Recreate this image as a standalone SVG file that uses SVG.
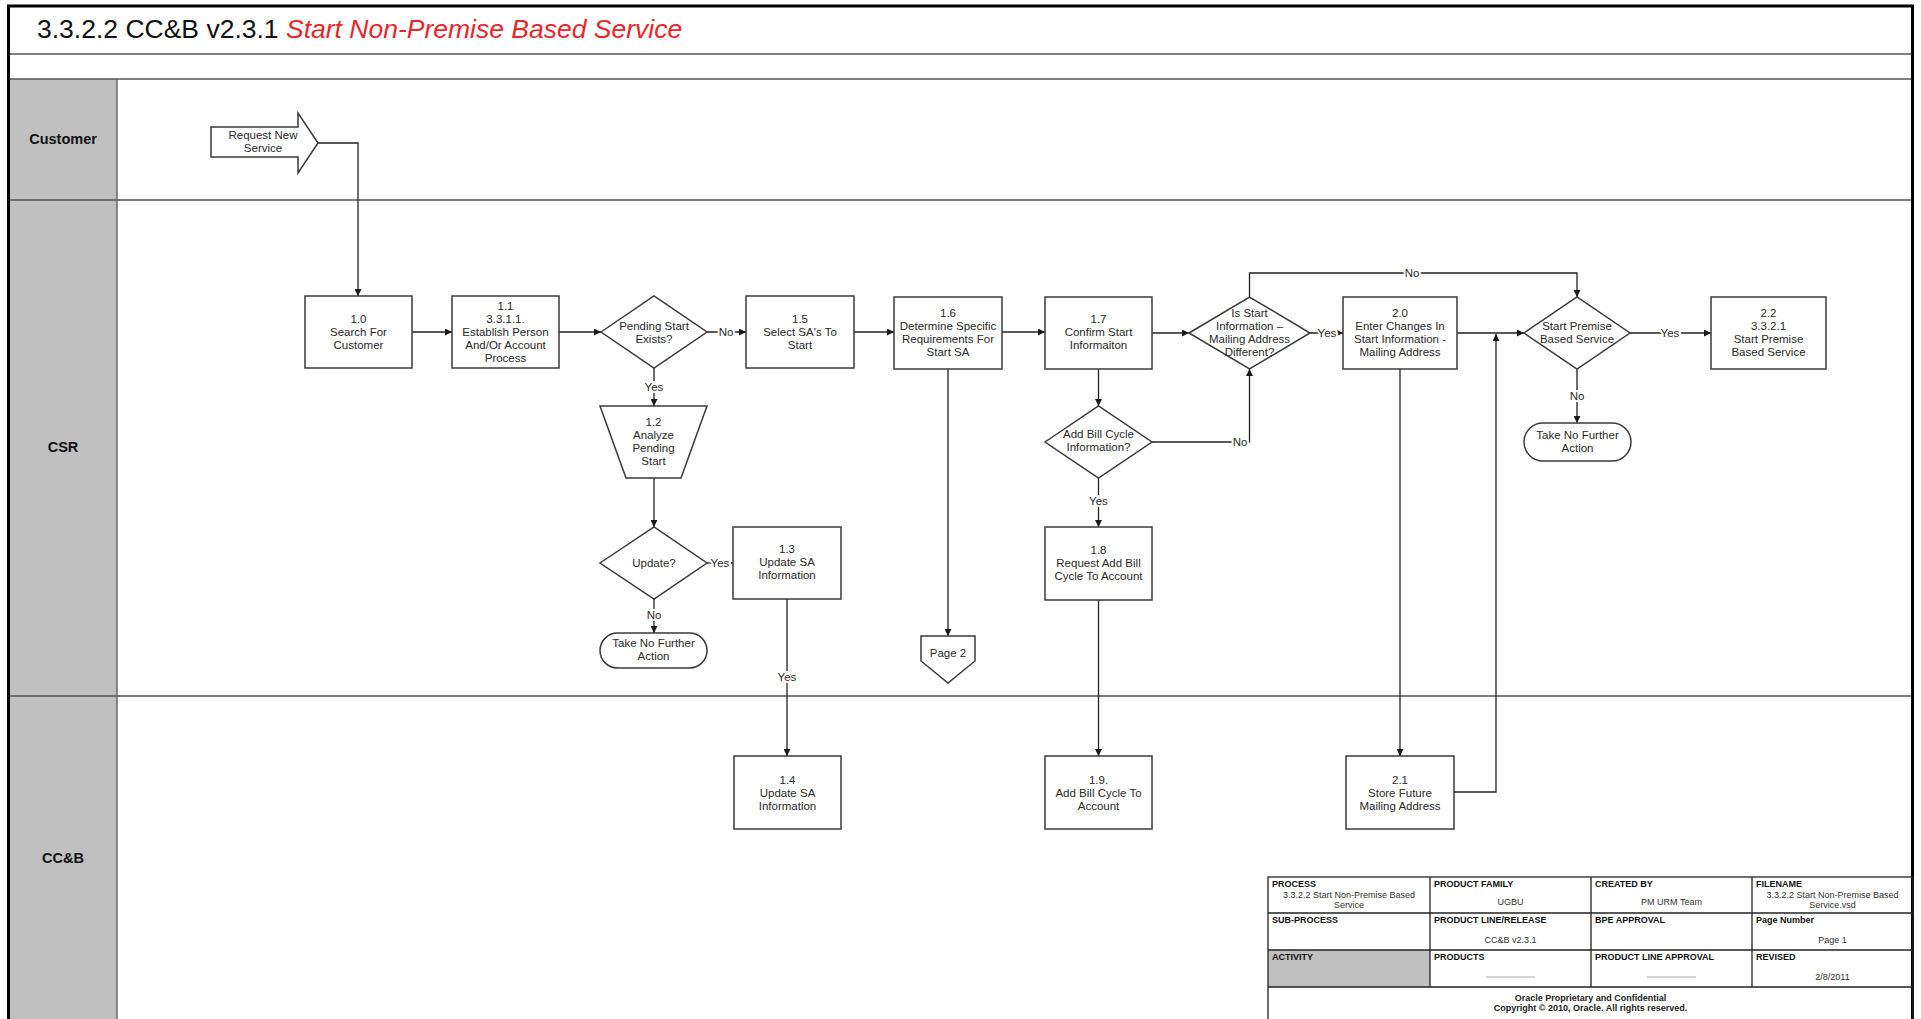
<svg xmlns="http://www.w3.org/2000/svg" width="1921" height="1019" viewBox="0 0 1921 1019">
<defs>
<marker id="ah" viewBox="0 0 10 10" refX="10" refY="5" markerWidth="8" markerHeight="7" markerUnits="userSpaceOnUse" orient="auto">
<path d="M0,0 L10,5 L0,10 z" fill="#1a1a1a"/>
</marker>
<style>
.box{fill:#fff;stroke:#3a3a3a;stroke-width:1.5}
.t{font-family:"Liberation Sans",Arial,sans-serif;font-size:11.5px;fill:#2a2a2a;text-anchor:middle}
.lbl{font-family:"Liberation Sans",Arial,sans-serif;font-size:11.5px;fill:#2a2a2a;text-anchor:middle;paint-order:stroke;stroke:#fff;stroke-width:4px}
.c{fill:none;stroke:#222;stroke-width:1.3}
.ca{fill:none;stroke:#222;stroke-width:1.3;marker-end:url(#ah)}
.lane{font-family:"Liberation Sans",Arial,sans-serif;font-size:14.5px;font-weight:bold;fill:#111;text-anchor:middle}
.sep{stroke:#555;stroke-width:1.3}
.th{font-family:"Liberation Sans",Arial,sans-serif;font-size:9px;font-weight:bold;fill:#111}
.tv{font-family:"Liberation Sans",Arial,sans-serif;font-size:9px;fill:#333;text-anchor:middle}
.tf{font-family:"Liberation Sans",Arial,sans-serif;font-size:9px;font-weight:bold;fill:#222;text-anchor:middle}
.cell{fill:none;stroke:#222;stroke-width:1.3}
</style>
</defs>
<rect x="0" y="0" width="1921" height="1019" fill="#fff"/>
<g id="frame">
<rect x="9" y="79" width="108" height="945" fill="#c0c0c0"/>
<line class="sep" x1="9" y1="54" x2="1913" y2="54"/>
<line class="sep" x1="9" y1="79" x2="1913" y2="79"/>
<line class="sep" x1="9" y1="200" x2="1913" y2="200"/>
<line class="sep" x1="9" y1="696" x2="1913" y2="696"/>
<line class="sep" x1="117" y1="79" x2="117" y2="1019"/>
<rect x="8.5" y="6" width="1904" height="1030" fill="none" stroke="#000" stroke-width="3"/>
<text x="37" y="38" font-family="'Liberation Sans',Arial,sans-serif" font-size="26.5" fill="#111">3.3.2.2 CC&amp;B v2.3.1 <tspan fill="#e8262c" font-style="italic">Start Non-Premise Based Service</tspan></text>
<text class="lane" x="63" y="144">Customer</text>
<text class="lane" x="63" y="452">CSR</text>
<text class="lane" x="63" y="863">CC&amp;B</text>
</g>
<g id="connectors">
<polyline class="ca" points="318,143 358,143 358,296"/>
<line class="ca" x1="412" y1="332" x2="452" y2="332"/>
<line class="ca" x1="559" y1="332" x2="601" y2="332"/>
<line class="ca" x1="707" y1="332" x2="746" y2="332"/>
<line class="ca" x1="854" y1="332" x2="894" y2="332"/>
<line class="ca" x1="1002" y1="332" x2="1045" y2="332"/>
<line class="ca" x1="1152" y1="333" x2="1189" y2="333"/>
<line class="ca" x1="1310" y1="333" x2="1343" y2="333"/>
<line class="ca" x1="1457" y1="333" x2="1524" y2="333"/>
<line class="ca" x1="1630" y1="333" x2="1711" y2="333"/>
<polyline class="ca" points="1249.5,297 1249.5,273 1577,273 1577,297"/>
<line class="ca" x1="1577" y1="369" x2="1577" y2="423"/>
<line class="ca" x1="654" y1="368" x2="654" y2="406"/>
<line class="ca" x1="654" y1="478" x2="654" y2="527"/>
<line class="ca" x1="707" y1="563" x2="733" y2="563"/>
<line class="ca" x1="654" y1="599" x2="654" y2="633"/>
<line class="ca" x1="787" y1="599" x2="787" y2="756"/>
<line class="ca" x1="948" y1="369" x2="948" y2="636"/>
<line class="ca" x1="1098.5" y1="369" x2="1098.5" y2="406"/>
<polyline class="ca" points="1152,442 1249.5,442 1249.5,369"/>
<line class="ca" x1="1098.5" y1="478" x2="1098.5" y2="527"/>
<line class="ca" x1="1098.5" y1="600" x2="1098.5" y2="756"/>
<line class="ca" x1="1400" y1="369" x2="1400" y2="756"/>
<polyline class="ca" points="1454,792 1496,792 1496,334"/>
<text class="lbl" x="726" y="336">No</text>
<text class="lbl" x="1327" y="337">Yes</text>
<text class="lbl" x="1412" y="277">No</text>
<text class="lbl" x="1670" y="337">Yes</text>
<text class="lbl" x="1577" y="400">No</text>
<text class="lbl" x="654" y="391">Yes</text>
<text class="lbl" x="720" y="567">Yes</text>
<text class="lbl" x="654" y="619">No</text>
<text class="lbl" x="787" y="681">Yes</text>
<text class="lbl" x="1240" y="446">No</text>
<text class="lbl" x="1098.5" y="505">Yes</text>
</g>
<g id="n-request">
<polygon class="box" points="211,127 298,127 298,113 318,143 298,173 298,157 211,157"/>
<text class="t" x="263" y="139" font-size="11">Request New</text>
<text class="t" x="263" y="152" font-size="11">Service</text>
</g>
<g id="n-1-0">
<rect class="box" x="305" y="296" width="107" height="72"/>
<text class="t" x="358.5" y="323">1.0</text>
<text class="t" x="358.5" y="336">Search For</text>
<text class="t" x="358.5" y="349">Customer</text>
</g>
<g id="n-1-1">
<rect class="box" x="452" y="296" width="107" height="72"/>
<text class="t" x="505.5" y="310">1.1</text>
<text class="t" x="505.5" y="323">3.3.1.1.</text>
<text class="t" x="505.5" y="336">Establish Person</text>
<text class="t" x="505.5" y="349">And/Or Account</text>
<text class="t" x="505.5" y="362">Process</text>
</g>
<g id="n-pending">
<polygon class="box" points="601,332 654,296 707,332 654,368"/>
<text class="t" x="654" y="330">Pending Start</text>
<text class="t" x="654" y="343">Exists?</text>
</g>
<g id="n-1-5">
<rect class="box" x="746" y="296" width="108" height="72"/>
<text class="t" x="800" y="323">1.5</text>
<text class="t" x="800" y="336">Select SA's To</text>
<text class="t" x="800" y="349">Start</text>
</g>
<g id="n-1-6">
<rect class="box" x="894" y="297" width="108" height="72"/>
<text class="t" x="948" y="317">1.6</text>
<text class="t" x="948" y="330">Determine Specific</text>
<text class="t" x="948" y="343">Requirements For</text>
<text class="t" x="948" y="356">Start SA</text>
</g>
<g id="n-1-7">
<rect class="box" x="1045" y="297" width="107" height="72"/>
<text class="t" x="1098.5" y="323">1.7</text>
<text class="t" x="1098.5" y="336">Confirm Start</text>
<text class="t" x="1098.5" y="349">Informaiton</text>
</g>
<g id="n-isstart">
<polygon class="box" points="1189,333 1249.5,297 1310,333 1249.5,369"/>
<text class="t" x="1249.5" y="317">Is Start</text>
<text class="t" x="1249.5" y="330">Information –</text>
<text class="t" x="1249.5" y="343">Mailing Address</text>
<text class="t" x="1249.5" y="356">Different?</text>
</g>
<g id="n-2-0">
<rect class="box" x="1343" y="297" width="114" height="72"/>
<text class="t" x="1400" y="317">2.0</text>
<text class="t" x="1400" y="330">Enter Changes In</text>
<text class="t" x="1400" y="343">Start Information -</text>
<text class="t" x="1400" y="356">Mailing Address</text>
</g>
<g id="n-premise">
<polygon class="box" points="1524,333 1577,297 1630,333 1577,369"/>
<text class="t" x="1577" y="330">Start Premise</text>
<text class="t" x="1577" y="343">Based Service</text>
</g>
<g id="n-2-2">
<rect class="box" x="1711" y="297" width="115" height="72"/>
<text class="t" x="1768.5" y="317">2.2</text>
<text class="t" x="1768.5" y="330">3.3.2.1</text>
<text class="t" x="1768.5" y="343">Start Premise</text>
<text class="t" x="1768.5" y="356">Based Service</text>
</g>
<g id="n-end2">
<rect class="box" x="1524" y="423" width="107" height="38" rx="19" ry="19"/>
<text class="t" x="1577.5" y="439">Take No Further</text>
<text class="t" x="1577.5" y="452">Action</text>
</g>
<g id="n-1-2">
<polygon class="box" points="600,406 707,406 681,478 626,478"/>
<text class="t" x="653.5" y="426">1.2</text>
<text class="t" x="653.5" y="439">Analyze</text>
<text class="t" x="653.5" y="452">Pending</text>
<text class="t" x="653.5" y="465">Start</text>
</g>
<g id="n-update">
<polygon class="box" points="600,563 654,527 707,563 654,599"/>
<text class="t" x="654" y="567">Update?</text>
</g>
<g id="n-1-3">
<rect class="box" x="733" y="527" width="108" height="72"/>
<text class="t" x="787" y="553">1.3</text>
<text class="t" x="787" y="566">Update SA</text>
<text class="t" x="787" y="579">Information</text>
</g>
<g id="n-end1">
<rect class="box" x="600" y="633" width="107" height="35" rx="17.5" ry="17.5"/>
<text class="t" x="653.5" y="647">Take No Further</text>
<text class="t" x="653.5" y="660">Action</text>
</g>
<g id="n-page2">
<polygon class="box" points="921,636 975,636 975,661 948,683 921,661"/>
<text class="t" x="948" y="657">Page 2</text>
</g>
<g id="n-addbill">
<polygon class="box" points="1045,442 1098.5,406 1152,442 1098.5,478"/>
<text class="t" x="1098.5" y="438">Add Bill Cycle</text>
<text class="t" x="1098.5" y="451">Information?</text>
</g>
<g id="n-1-8">
<rect class="box" x="1045" y="527" width="107" height="73"/>
<text class="t" x="1098.5" y="554">1.8</text>
<text class="t" x="1098.5" y="567">Request Add Bill</text>
<text class="t" x="1098.5" y="580">Cycle To Account</text>
</g>
<g id="n-1-4">
<rect class="box" x="734" y="756" width="107" height="73"/>
<text class="t" x="787.5" y="784">1.4</text>
<text class="t" x="787.5" y="797">Update SA</text>
<text class="t" x="787.5" y="810">Information</text>
</g>
<g id="n-1-9">
<rect class="box" x="1045" y="756" width="107" height="73"/>
<text class="t" x="1098.5" y="784">1.9.</text>
<text class="t" x="1098.5" y="797">Add Bill Cycle To</text>
<text class="t" x="1098.5" y="810">Account</text>
</g>
<g id="n-2-1">
<rect class="box" x="1346" y="756" width="108" height="73"/>
<text class="t" x="1400" y="784">2.1</text>
<text class="t" x="1400" y="797">Store Future</text>
<text class="t" x="1400" y="810">Mailing Address</text>
</g>
<g id="title-block">
<rect x="1268" y="950" width="162" height="37" fill="#c0c0c0"/>
<rect class="cell" x="1268" y="877" width="645" height="150"/>
<line class="cell" x1="1268" y1="913" x2="1913" y2="913"/>
<line class="cell" x1="1268" y1="950" x2="1913" y2="950"/>
<line class="cell" x1="1268" y1="987" x2="1913" y2="987"/>
<line class="cell" x1="1430" y1="877" x2="1430" y2="987"/>
<line class="cell" x1="1591" y1="877" x2="1591" y2="987"/>
<line class="cell" x1="1752" y1="877" x2="1752" y2="987"/>
<text class="th" x="1272" y="887">PROCESS</text>
<text class="th" x="1434" y="887">PRODUCT FAMILY</text>
<text class="th" x="1595" y="887">CREATED BY</text>
<text class="th" x="1756" y="887">FILENAME</text>
<text class="th" x="1272" y="923">SUB-PROCESS</text>
<text class="th" x="1434" y="923">PRODUCT LINE/RELEASE</text>
<text class="th" x="1595" y="923">BPE APPROVAL</text>
<text class="th" x="1756" y="923">Page Number</text>
<text class="th" x="1272" y="960">ACTIVITY</text>
<text class="th" x="1434" y="960">PRODUCTS</text>
<text class="th" x="1595" y="960">PRODUCT LINE APPROVAL</text>
<text class="th" x="1756" y="960">REVISED</text>
<text class="tv" x="1349" y="898">3.3.2.2 Start Non-Premise Based</text>
<text class="tv" x="1349" y="908">Service</text>
<text class="tv" x="1510.5" y="905">UGBU</text>
<text class="tv" x="1671.5" y="905">PM URM Team</text>
<text class="tv" x="1832.5" y="898">3.3.2.2 Start Non-Premise Based</text>
<text class="tv" x="1832.5" y="908">Service.vsd</text>
<text class="tv" x="1510.5" y="943">CC&amp;B v2.3.1</text>
<text class="tv" x="1832.5" y="943">Page 1</text>
<line x1="1486" y1="977" x2="1535" y2="977" stroke="#aaa" stroke-width="1"/>
<line x1="1647" y1="977" x2="1696" y2="977" stroke="#aaa" stroke-width="1"/>
<text class="tv" x="1832.5" y="980">2/8/2011</text>
<text class="tf" x="1590.5" y="1001">Oracle Proprietary and Confidential</text>
<text class="tf" x="1590.5" y="1011">Copyright © 2010, Oracle. All rights reserved.</text>
</g>
</svg>
